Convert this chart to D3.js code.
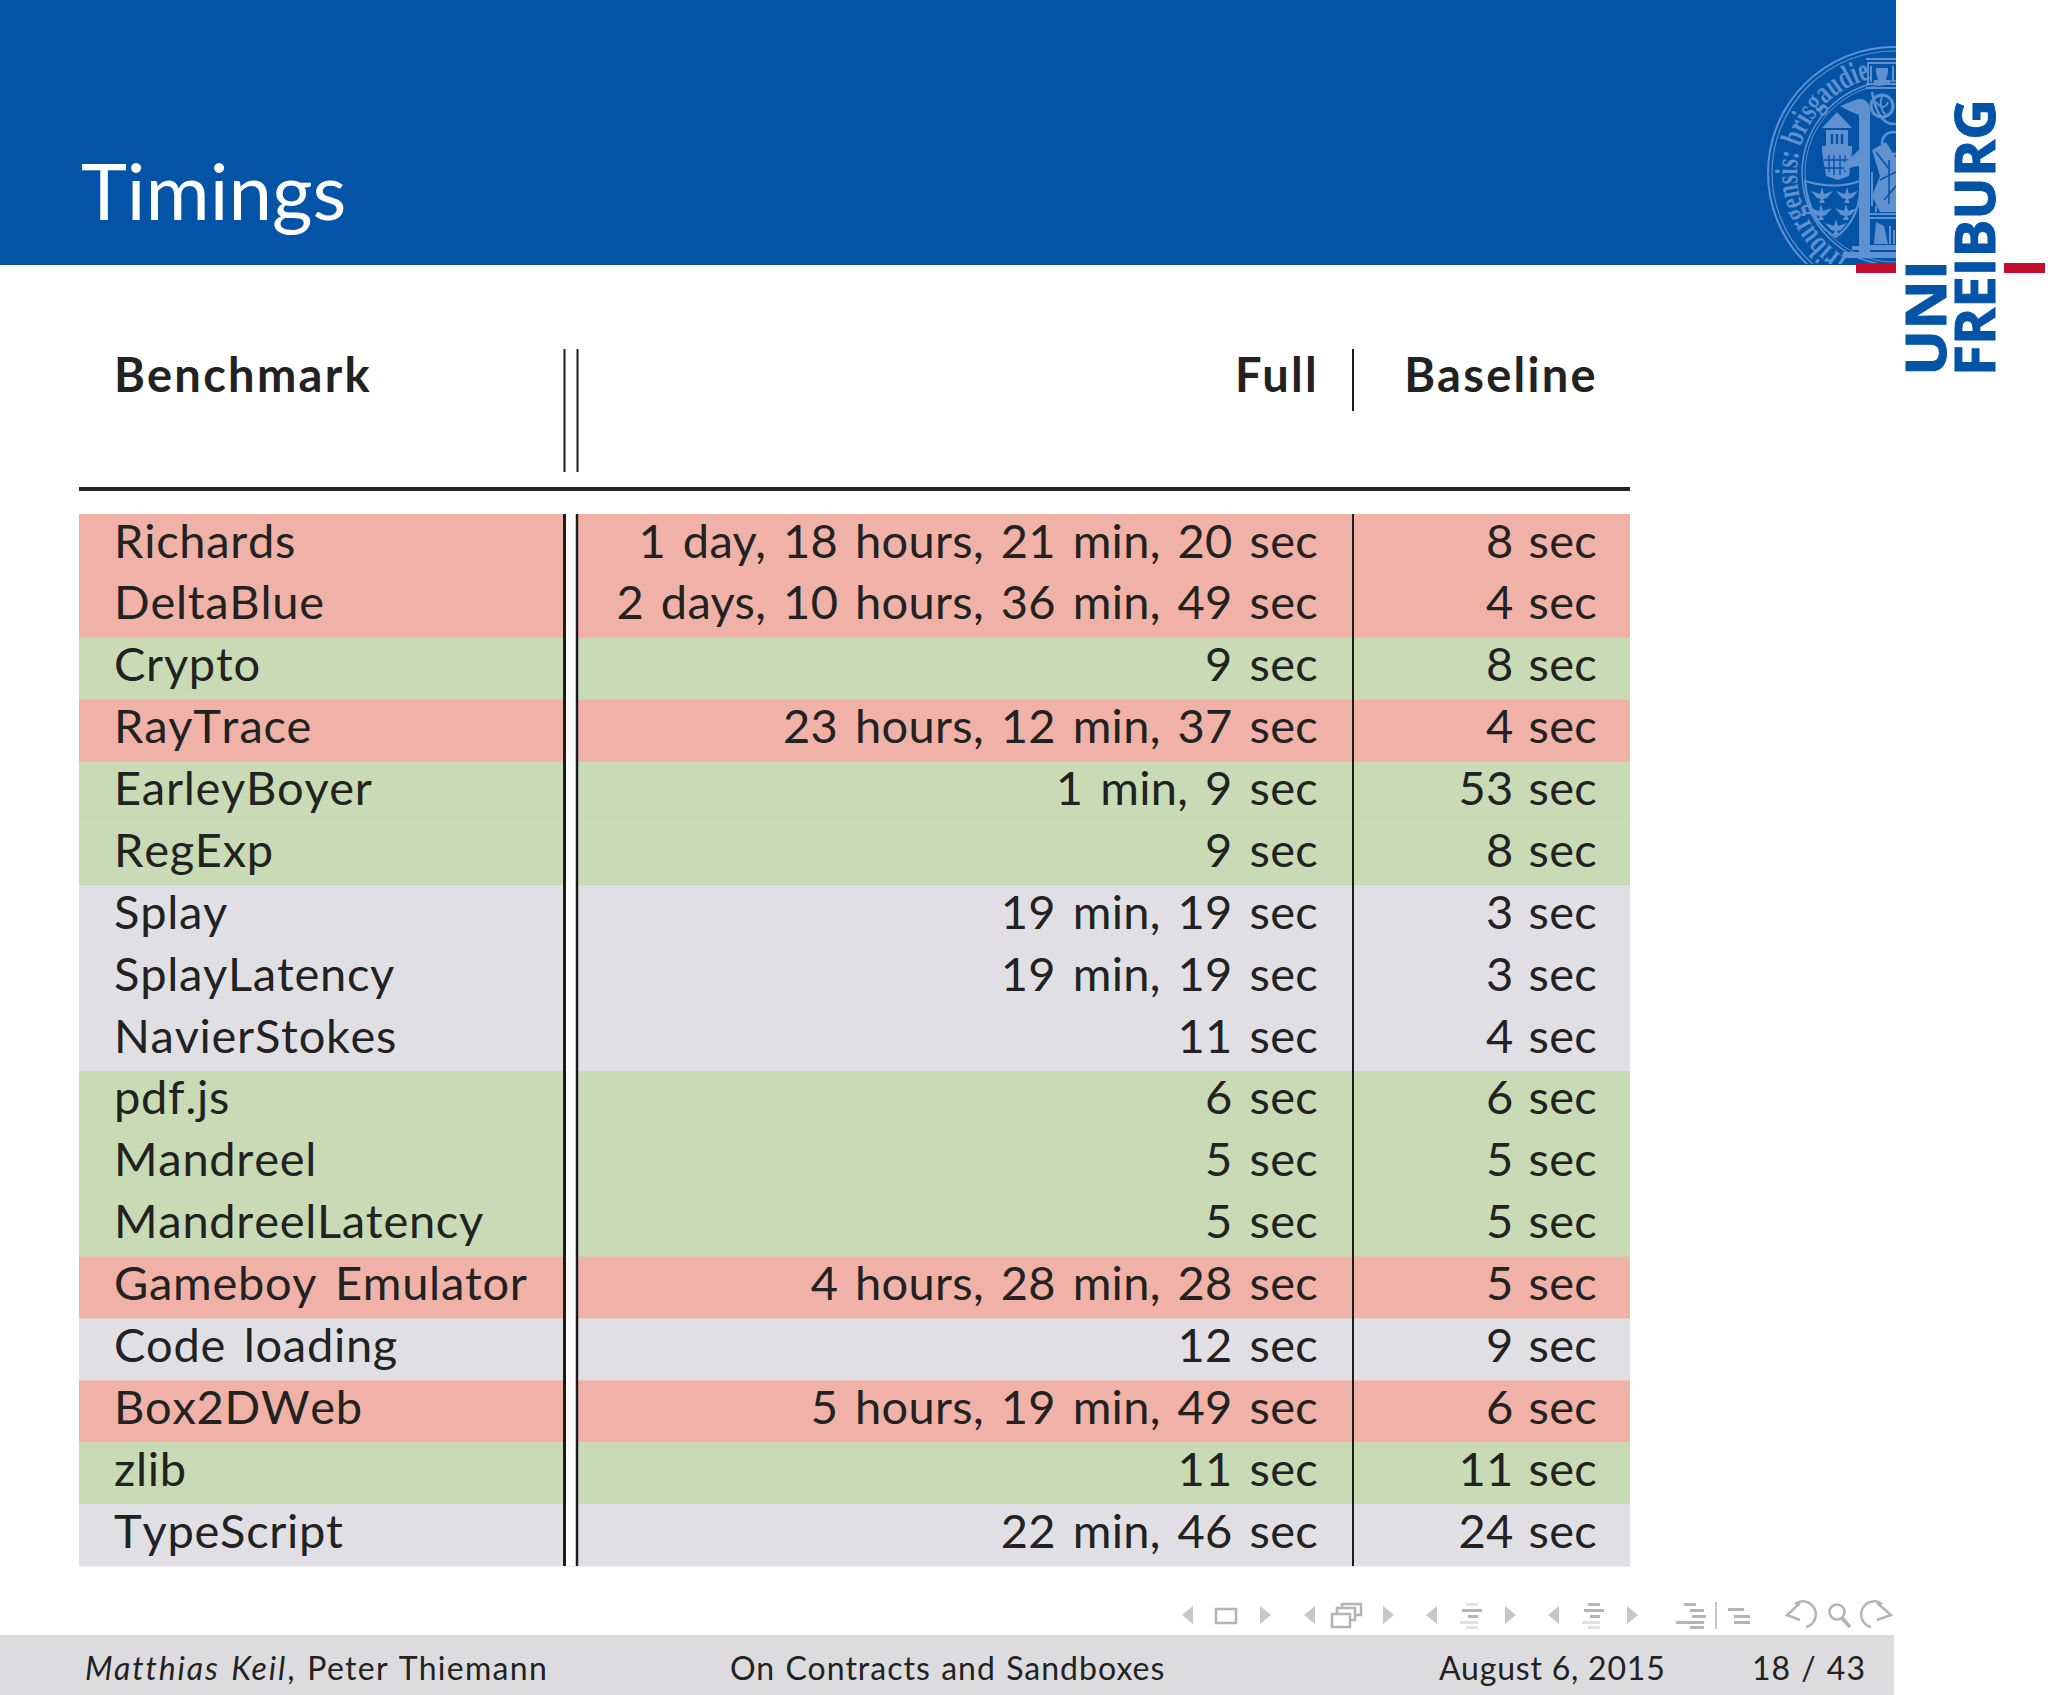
<!DOCTYPE html>
<html lang="en">
<head>
<meta charset="UTF-8">
<title>Timings</title>
<script src="https://cdn.jsdelivr.net/npm/d3@7"></script>
<style>
    html, body { margin: 0; padding: 0; background: #fff; }
    svg { display: block; }
    text { font-family: Lato, "Open Sans", sans-serif; fill: #222; }
</style>
</head>
<body>
<svg id="slide" width="2048" height="1695"></svg>
<script>
    let benchmarks = ["Richards", "DeltaBlue", "Crypto", "RayTrace", "EarleyBoyer", "RegExp", "Splay", "SplayLatency",
        "NavierStokes", "pdf.js", "Mandreel", "MandreelLatency", "Gameboy Emulator", "Code loading", "Box2DWeb", "zlib", "TypeScript"]
    let full_times = ["1 day, 18 hours, 21 min, 20 sec", "2 days, 10 hours, 36 min, 49 sec", "9 sec", "23 hours, 12 min, 37 sec",
        "1 min, 9 sec", "9 sec", "19 min, 19 sec", "19 min, 19 sec", "11 sec", "6 sec", "5 sec", "5 sec",
        "4 hours, 28 min, 28 sec", "12 sec", "5 hours, 19 min, 49 sec", "11 sec", "22 min, 46 sec"]
    let baseline_times = ["8 sec", "4 sec", "8 sec", "4 sec", "53 sec", "8 sec", "3 sec", "3 sec", "4 sec", "6 sec", "5 sec", "5 sec",
        "5 sec", "9 sec", "6 sec", "11 sec", "24 sec"]
    let row_status = ["red", "red", "green", "red", "green", "green", "gray", "gray", "gray", "green", "green", "green",
        "red", "gray", "red", "green", "gray"]
    let headers = ["Benchmark", "Full", "Baseline"]
    let status_colors = {red: "#f0b1a7", green: "#c9dbb4", gray: "#e0e0e4"}

    let svg = d3.select("#slide")
    let y = d3.scaleBand().domain(d3.range(benchmarks.length)).range([514, 1566])
    let blue = "#0354a6"

    // frame
    svg.append("rect").attr("width", 1896).attr("height", 265).attr("fill", blue)
    svg.append("text").attr("x", 81).attr("y", 220).text("Timings").style("font-size", "78px").style("fill", "#fff")

    // seal, cut off by the edge of the title bar
    let seal_color = "#5f90cf"
    svg.append("clipPath").attr("id", "sealclip").append("rect").attr("x", 1700).attr("width", 196).attr("height", 264)
    let seal = svg.append("g").attr("clip-path", "url(#sealclip)")
    let cx = 1894, cy = 173
    for (let [r, w] of [[126, 2], [122, 1.2], [92, 1.5], [89, 1]]) {
        seal.append("circle").attr("cx", cx).attr("cy", cy).attr("r", r).attr("fill", "none")
            .attr("stroke", seal_color).attr("stroke-width", w)
    }
    let ring = d3.path()
    ring.arc(cx, cy, 97, Math.PI * 0.66, Math.PI * 1.42)
    svg.append("defs").append("path").attr("id", "sealpath").attr("d", ring.toString())
    seal.append("text").append("textPath").attr("href", "#sealpath")
        .text("friburgensis: brisgaudie")
        .style("font-family", "Liberation Serif").style("font-size", "32px").style("font-weight", "bold")
        .style("fill", seal_color).attr("textLength", 232).attr("lengthAdjust", "spacingAndGlyphs")

    let seal_fill = (d, color) => seal.append("path").attr("d", d).attr("fill", color || seal_color)
    let seal_line = (d, w, color) => seal.append("path").attr("d", d).attr("fill", "none").attr("stroke", color || seal_color).attr("stroke-width", w)

    // tower
    seal_fill("M1837,112 L1852,128 H1822 Z")
    seal_fill("M1826,130 H1848 V146 H1852 V152 L1849,176 L1838,180 L1826,176 L1822,152 V146 H1826 Z")
    seal_line("M1832,134 V144 M1837,134 V144 M1842,134 V144", 2.5, blue)
    seal_line("M1829,155 V172 M1834,155 V175 M1840,155 V175 M1845,155 V172 M1824,160 H1850 M1824,168 H1850", 1.3, blue)

    // shield with five eagles
    seal_line("M1805,181 Q1835,190 1860,181 Q1862,218 1836,237 Q1808,222 1805,181 Z", 2)
    for (let [ex, ey] of [[1822, 194], [1847, 194], [1821, 211], [1846, 211], [1836, 226]]) {
        seal_fill(`M${ex - 11},${ey - 3} L${ex - 2},${ey} L${ex},${ey - 7} L${ex + 2},${ey} L${ex + 11},${ey - 3} L${ex + 5},${ey + 4} L${ex + 1},${ey + 5} L${ex + 3},${ey + 9} H${ex - 3} L${ex - 1},${ey + 5} L${ex - 5},${ey + 4} Z`)
    }

    // big cross and base
    seal_fill("M1840,106 L1858,99 Q1868,98 1870,108 V252 H1859 V166 Q1852,166 1845,171 L1843,164 L1859,150 V115 Q1850,112 1840,106 Z")
    seal_fill("M1843,252 H1896 V258 H1843 Z")
    seal_fill("M1852,246 H1896 V250 H1852 Z")

    // top canopy and saint
    seal_line("M1866,59 H1896 M1868,63 H1896 M1868,62 V85 M1866,84 H1896 M1866,88 H1896", 1.8)
    seal_fill("M1876,68 h12 v4 l-2,8 h4 v4 h-16 v-4 h4 l-2,-8 Z")
    seal_line("M1871,66 V82 M1893,66 V82", 2)
    seal.append("circle").attr("cx", 1882).attr("cy", 106).attr("r", 11).attr("fill", "none").attr("stroke", seal_color).attr("stroke-width", 3)
    seal_line("M1876,102 Q1884,112 1888,102 M1882,96 Q1878,108 1886,115", 2)
    seal_line("M1872,92 Q1878,126 1896,124", 2.5)

    // seated figure
    seal.append("circle").attr("cx", 1893).attr("cy", 143).attr("r", 11).attr("fill", "none").attr("stroke", seal_color).attr("stroke-width", 2.5)
    seal_fill("M1872,150 L1886,142 L1896,158 V212 H1880 L1872,196 L1880,176 Z")
    seal_line("M1876,152 L1890,170 M1880,180 L1896,172 M1884,200 L1896,186 M1889,160 V204", 1.5, blue)
    seal_line("M1870,214 H1896 M1870,218 H1896 M1870,246 H1896", 2)
    seal_fill("M1876,222 L1884,226 L1888,244 H1874 Z")
    seal_line("M1890,226 V244 M1894,230 V244", 2)
    seal_line("M1872,172 V206 M1876,206 V212", 2)

    // logo
    svg.append("rect").attr("x", 1856).attr("y", 263).attr("width", 40).attr("height", 10).attr("fill", "#c50e2e")
    svg.append("rect").attr("x", 2004).attr("y", 263).attr("width", 41).attr("height", 10).attr("fill", "#c50e2e")
    svg.append("text").attr("transform", "translate(1946,376) rotate(-90)").text("UNI")
        .style("font-family", "Open Sans").style("font-weight", "bold").style("font-size", "56px").style("fill", blue)
        .style("stroke", blue).style("stroke-width", 1)
        .attr("textLength", 116).attr("lengthAdjust", "spacingAndGlyphs")
    svg.append("text").attr("transform", "translate(1995,376) rotate(-90)").text("FREIBURG")
        .style("font-family", "Open Sans").style("font-weight", "bold").style("font-size", "56px").style("fill", blue)
        .style("stroke", blue).style("stroke-width", 1)
        .attr("textLength", 277).attr("lengthAdjust", "spacingAndGlyphs")

    // table rows
    svg.append("g").selectAll("rect").data(row_status).join("rect")
        .attr("x", 79).attr("width", 1551)
        .attr("y", (d, i) => y(i)).attr("height", y.bandwidth() + 0.5)
        .attr("fill", d => status_colors[d])
    svg.append("rect").attr("x", 566).attr("width", 10).attr("y", y.range()[0]).attr("height", 1052).attr("fill", "#fff")

    // rules
    let rules = [[564.5, 349, 472, 2], [577.5, 349, 472, 2], [1353, 349, 411, 2], [564.5, 514, 1566, 3], [577, 514, 1566, 2.5], [1353, 514, 1566, 2]]
    svg.append("g").selectAll("line").data(rules).join("line")
        .attr("x1", d => d[0]).attr("x2", d => d[0]).attr("y1", d => d[1]).attr("y2", d => d[2])
        .attr("stroke-width", d => d[3]).attr("stroke", "#1c1c1c")
    svg.append("rect").attr("x", 79).attr("y", 487).attr("width", 1551).attr("height", 4).attr("fill", "#222")

    // table text
    let text_size = "47px"
    let head_x = [114, 1319, 1598]
    svg.append("g").selectAll("text").data(headers).join("text")
        .attr("x", (d, i) => head_x[i]).attr("y", 392)
        .attr("text-anchor", (d, i) => i ? "end" : "start").text(d => d)
        .style("font-size", text_size).style("font-weight", "bold").style("letter-spacing", "2.3px")

    let baseline = i => y(i) + 43.5
    svg.append("g").selectAll("text").data(benchmarks).join("text")
        .attr("x", 114).attr("y", (d, i) => baseline(i)).text(d => d)
        .style("font-size", text_size).style("font-kerning", "none").style("letter-spacing", "0.7px").style("word-spacing", "5px")
    svg.append("g").selectAll("text").data(full_times).join("text")
        .attr("x", 1318).attr("y", (d, i) => baseline(i)).attr("text-anchor", "end").text(d => d)
        .style("font-size", text_size).style("letter-spacing", "0.3px").style("word-spacing", "4.5px")
    svg.append("g").selectAll("text").data(baseline_times).join("text")
        .attr("x", 1597).attr("y", (d, i) => baseline(i)).attr("text-anchor", "end").text(d => d)
        .style("font-size", text_size).style("letter-spacing", "0.3px").style("word-spacing", "2.5px")

    // navigation symbols
    let nav_color = "#b4b4b4"
    let nav = svg.append("g").attr("fill", nav_color)
    let left_arrows = [1182, 1304, 1426, 1548], right_arrows = [1260, 1383, 1505, 1627]
    nav.selectAll(".la").data(left_arrows).join("path").attr("d", d => `M${d},1615 L${d + 11},1606 V1624 Z`).attr("opacity", 0.75)
    nav.selectAll(".ra").data(right_arrows).join("path").attr("d", d => `M${d + 11},1615 L${d},1606 V1624 Z`).attr("opacity", 0.75)
    let box = svg.append("g").attr("fill", "none").attr("stroke", nav_color).attr("stroke-width", 2.5)
    box.append("rect").attr("x", 1216).attr("y", 1609).attr("width", 20).attr("height", 14)
    box.append("rect").attr("x", 1332).attr("y", 1614).attr("width", 18).attr("height", 13)
    box.append("path").attr("d", "M1337,1613 V1608 H1355 V1620 H1351 M1342,1607 V1604 H1361 V1615 H1356")
    let bars = [[1466, 1603, 12, .4], [1462, 1609, 20, 1], [1468, 1615, 10, 1], [1460, 1621, 18, .4], [1466, 1626, 12, .4],
        [1588, 1603, 12, 1], [1584, 1609, 20, 1], [1590, 1615, 10, 1], [1582, 1621, 18, .4], [1588, 1626, 12, .4],
        [1684, 1603, 12, 1], [1690, 1609, 14, 1], [1692, 1615, 14, 1], [1676, 1621, 28, 1], [1690, 1626, 14, 1],
        [1728, 1608, 16, 1], [1734, 1615, 16, 1], [1734, 1621, 16, 1]]
    nav.selectAll(".bar").data(bars).join("rect").attr("x", d => d[0]).attr("y", d => d[1]).attr("width", d => d[2]).attr("height", 3)
        .attr("opacity", d => d[3])
    svg.append("line").attr("x1", 1716).attr("x2", 1716).attr("y1", 1602).attr("y2", 1629).attr("stroke", nav_color).attr("stroke-width", 1.5)
    let icons = svg.append("g").attr("fill", "none").attr("stroke", nav_color).attr("stroke-width", 2.5)
    icons.append("path").attr("d", "M1795,1604 A13,13 0 1 1 1806,1627 M1800,1603 L1787,1615 L1800,1620")
    icons.append("circle").attr("cx", 1837).attr("cy", 1612).attr("r", 7.5)
    icons.append("path").attr("d", "M1842,1618 L1850,1627").attr("stroke-width", 3.5)
    icons.append("path").attr("d", "M1882,1604 A13,13 0 1 0 1871,1627 M1877,1603 L1891,1615 L1877,1620")

    // footer
    svg.append("rect").attr("y", 1635).attr("width", 1894).attr("height", 60).attr("fill", "#dcdcde")
    let foot = svg.append("g").style("font-size", "32px").style("letter-spacing", "1px")
    let author = foot.append("text").attr("x", 85).attr("y", 1680)
    author.append("tspan").text("Matthias Keil").style("font-style", "italic").style("letter-spacing", "1.9px").style("word-spacing", "2px")
    author.append("tspan").text(", Peter Thiemann").style("letter-spacing", "1.3px").style("word-spacing", "2px")
    foot.append("text").attr("x", 730).attr("y", 1680).text("On Contracts and Sandboxes").style("word-spacing", "1.2px")
    foot.append("text").attr("x", 1439).attr("y", 1680).text("August 6, 2015").style("letter-spacing", "0.8px")
    foot.append("text").attr("x", 1866).attr("y", 1680).attr("text-anchor", "end").text("18 / 43").style("word-spacing", "1px")
</script>
</body>
</html>
